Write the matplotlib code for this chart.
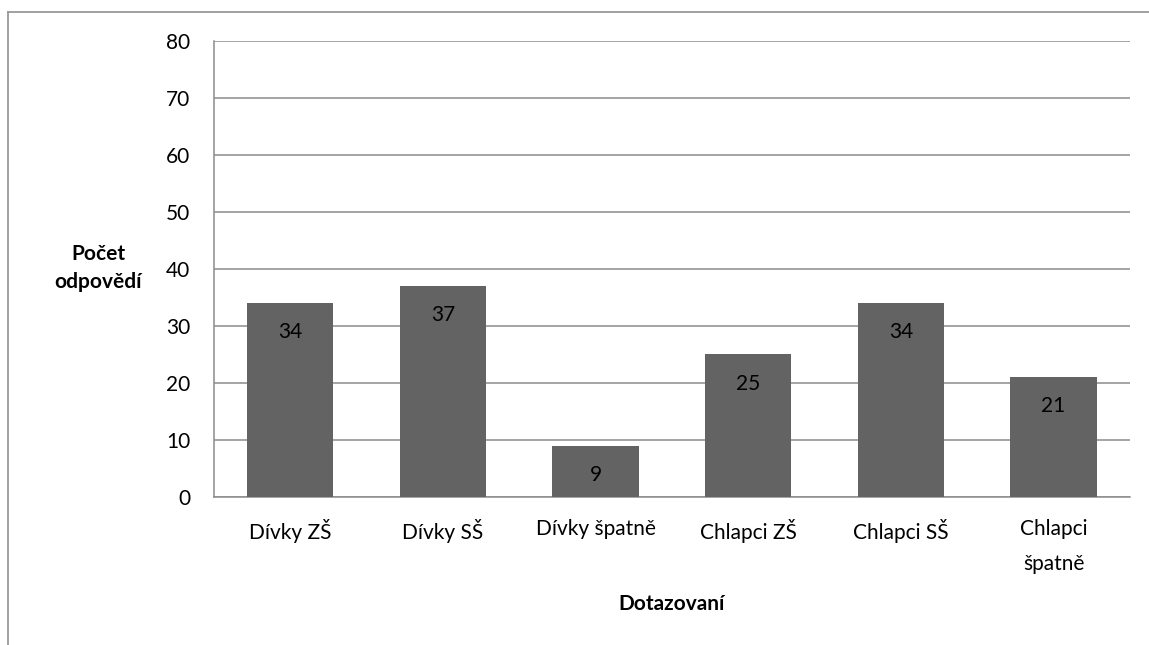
import matplotlib
matplotlib.use('Agg')
import matplotlib.pyplot as plt
from matplotlib.lines import Line2D

# data
categories = ['Dívky ZŠ', 'Dívky SŠ', 'Dívky špatně', 'Chlapci ZŠ', 'Chlapci SŠ', 'Chlapci\nšpatně']
values = [34, 37, 9, 25, 34, 21]
y_ticks = [0, 10, 20, 30, 40, 50, 60, 70, 80]

plt.rcParams['font.family'] = ['Lato', 'DejaVu Sans']
fs = 15

fig = plt.figure(figsize=(11.49, 6.45), dpi=100)
ax = fig.add_axes([0.1862, 0.2295, 0.7972, 0.7070])

grid_col = '#8c8c8c'
bars = ax.bar(range(len(categories)), values, width=0.565, color='#636363', zorder=3)

ax.set_xlim(-0.5, len(categories) - 0.5)
ax.set_ylim(0, 80)
ax.set_yticks(y_ticks)
ax.set_xticks(range(len(categories)))
ax.set_xticklabels(categories, fontsize=fs, va='top', linespacing=1.95)
ax.tick_params(axis='y', labelsize=fs, length=0, pad=17)
ax.tick_params(axis='x', length=0, pad=16)
ax.yaxis.grid(True, color=grid_col, linewidth=1.1, zorder=0)

for s in ['top', 'right']:
    ax.spines[s].set_visible(False)
for s in ['left', 'bottom']:
    ax.spines[s].set_color(grid_col)
    ax.spines[s].set_linewidth(1.1)

# value labels inside bars
for b, v in zip(bars, values):
    ax.annotate(str(v), (b.get_x() + b.get_width() / 2, v), xytext=(0, -21),
                textcoords='offset points', ha='center', va='center',
                fontsize=fs, color='black', zorder=4)

fig.text(98 / 1149, 1 - 268 / 645, 'Počet\nodpovědí', ha='center', va='center',
         fontsize=fs, fontweight='bold', linespacing=1.55)
fig.text(672 / 1149, 1 - 604 / 645, 'Dotazovaní', ha='center', va='center',
         fontsize=fs, fontweight='bold')

# outer chart border (partially visible)
fig.add_artist(Line2D([8 / 1149, 8 / 1149], [0, 1 - 11.5 / 645], color='#9a9a9a', linewidth=1.3))
fig.add_artist(Line2D([8 / 1149, 1], [1 - 11.5 / 645, 1 - 11.5 / 645], color='#9a9a9a', linewidth=1.3))

fig.savefig('out.png', dpi=100)
